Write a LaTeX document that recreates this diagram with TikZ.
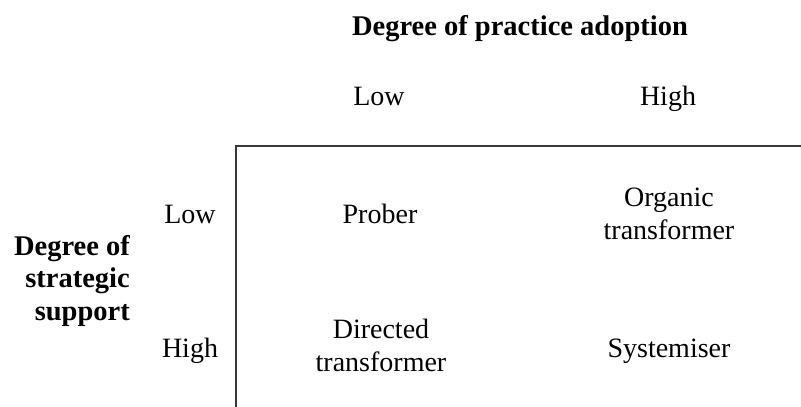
\documentclass[tikz,border=0pt]{standalone}
\usepackage{fontspec}
\setmainfont{Liberation Serif}
\begin{document}
\begin{tikzpicture}[x=1pt,y=-1pt,
  lbl/.style={anchor=base,inner sep=0pt,font=\fontsize{28}{32.5}\selectfont},
  hdr/.style={lbl,font=\fontsize{28.5}{32.5}\selectfont\bfseries},
  multi/.style={lbl,align=center},
  gridline/.style={line width=2pt,draw=black!78}]
\useasboundingbox (0,0) rectangle (801,407);
\node[hdr] (title) at (520,35) {Degree of practice adoption};
\node[lbl] (colLow) at (379,105) {Low};
\node[lbl] (colHigh) at (668,105) {High};
\node[lbl] (rowLow) at (190,223) {Low};
\node[lbl] (rowHigh) at (190,357) {High};
\node[hdr,anchor=base east,align=right] (side) at (130,320) {Degree of\\strategic\\support};
\node[lbl] (prober) at (380,223) {Prober};
\node[multi] (organic) at (669,239) {Organic\\transformer};
\node[multi] (directed) at (381,371) {Directed\\transformer};
\node[lbl] (systemiser) at (669,357) {Systemiser};
\coordinate (corner) at (236,146);
\coordinate (bottomEnd) at (236,408);
\coordinate (rightEnd) at (802,146);
\draw[gridline] (bottomEnd) -- (corner) -- (rightEnd);
\end{tikzpicture}
\end{document}
